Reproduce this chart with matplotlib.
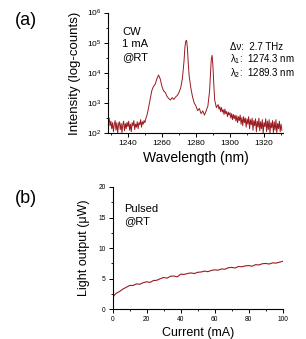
import numpy as np
import matplotlib
matplotlib.use("Agg")
import matplotlib.pyplot as plt
from matplotlib.ticker import MultipleLocator, LogLocator

plt.rcParams['font.family'] = ['Liberation Sans', 'DejaVu Sans']
plt.rcParams['mathtext.fontset'] = 'custom'
plt.rcParams['mathtext.rm'] = 'Liberation Sans'
plt.rcParams['mathtext.it'] = 'Liberation Sans'

# (a) CW spectrum, log10 of counts
wavelength = [1228, 1228.5, 1229, 1229.5, 1230, 1230.5, 1231, 1231.5, 1232, 1232.5,
              1233, 1233.5, 1234, 1234.5, 1235, 1235.5, 1236, 1236.5, 1237, 1237.5,
              1238, 1238.5, 1239, 1239.5, 1240, 1240.5, 1241, 1241.5, 1242, 1242.5,
              1243, 1243.5, 1244, 1244.5, 1245, 1245.5, 1246, 1246.5, 1247, 1247.5,
              1248, 1248.5, 1249, 1249.5, 1250, 1250.5, 1251, 1252, 1253, 1254,
              1255, 1256, 1257, 1258, 1259, 1260, 1261, 1262, 1263, 1264,
              1265, 1266, 1267, 1268, 1269, 1270, 1271, 1272, 1273, 1273.5,
              1274, 1274.5, 1275, 1275.5, 1276, 1277, 1278, 1279, 1280, 1281,
              1282, 1283, 1284, 1285, 1286, 1287, 1288, 1288.5, 1289, 1289.5,
              1290, 1290.5, 1291, 1292,
              1293, 1293.5, 1294, 1294.5, 1295, 1295.5, 1296, 1296.5, 1297, 1297.5,
              1298, 1298.5, 1299, 1299.5, 1300, 1300.5, 1301, 1301.5, 1302, 1302.5,
              1303, 1303.5, 1304, 1304.5, 1305, 1305.5, 1306, 1306.5, 1307, 1307.5,
              1308, 1308.5, 1309, 1309.5, 1310, 1310.5, 1311, 1311.5, 1312, 1312.5,
              1313, 1313.5, 1314, 1314.5, 1315, 1315.5, 1316, 1316.5, 1317, 1317.5,
              1318, 1318.5, 1319, 1319.5, 1320, 1320.5, 1321, 1321.5, 1322, 1322.5,
              1323, 1323.5, 1324, 1324.5, 1325, 1325.5, 1326, 1326.5, 1327, 1327.5,
              1328, 1328.5, 1329, 1329.5, 1330, 1330.5]
log_counts = [2.45, 2.35, 2.50, 2.25, 2.40, 2.15, 2.35, 2.05, 2.30, 2.42,
              2.10, 2.35, 2.00, 2.30, 2.38, 2.12, 2.33, 2.02, 2.28, 2.40,
              2.08, 2.32, 2.15, 2.36, 2.22, 2.40, 2.10, 2.30, 2.05, 2.35,
              2.25, 2.42, 2.12, 2.30, 2.20, 2.38, 2.15, 2.35, 2.28, 2.45,
              2.20, 2.38, 2.30, 2.42, 2.35, 2.48, 2.55, 2.80, 3.10, 3.40,
              3.55, 3.62, 3.80, 3.93, 3.80, 3.55, 3.40, 3.35, 3.22, 3.15,
              3.10, 3.18, 3.12, 3.20, 3.25, 3.35, 3.50, 3.80, 4.40, 4.85,
              5.05, 5.08, 4.80, 4.30, 3.90, 3.50, 3.20, 3.00, 2.90, 2.75,
              2.82, 2.65, 2.74, 2.60, 2.75, 2.90, 3.40, 3.95, 4.45, 4.58,
              4.20, 3.60, 3.10, 2.85,
              2.95, 2.80, 2.88, 2.72, 2.85, 2.70, 2.78, 2.62, 2.80, 2.65,
              2.72, 2.55, 2.70, 2.60, 2.68, 2.50, 2.65, 2.45, 2.62, 2.48,
              2.60, 2.40, 2.58, 2.35, 2.55, 2.42, 2.60, 2.30, 2.52, 2.25,
              2.55, 2.35, 2.50, 2.20, 2.48, 2.30, 2.55, 2.15, 2.45, 2.28,
              2.50, 2.10, 2.42, 2.25, 2.48, 2.05, 2.40, 2.20, 2.50, 2.08,
              2.38, 2.15, 2.45, 2.00, 2.35, 2.22, 2.48, 2.05, 2.40, 2.12,
              2.45, 2.00, 2.35, 2.18, 2.42, 2.02, 2.38, 2.10, 2.45, 2.00,
              2.32, 2.15, 2.40, 2.05, 2.30, 2.10]
assert len(wavelength) == len(log_counts)

# (b) pulsed L-I curve
current = [0, 1, 2, 4, 6, 8, 10, 12, 14, 16, 18, 20, 22, 24, 26, 28, 30,
           32, 34, 36, 38, 40, 42, 44, 46, 48, 50, 52, 54, 56, 58, 60, 62,
           64, 66, 68, 70, 72, 74, 76, 78, 80, 82, 84, 86, 88, 90, 92, 94,
           96, 98, 100]
light = [1.8, 2.3, 2.6, 2.9, 3.3, 3.6, 3.9, 3.9, 4.15, 4.1, 4.35, 4.5, 4.4,
         4.7, 4.75, 5.0, 5.2, 5.1, 5.4, 5.45, 5.3, 5.75, 5.7, 5.85, 5.95,
         5.85, 6.05, 6.1, 6.25, 6.15, 6.35, 6.45, 6.4, 6.6, 6.55, 6.8, 6.85,
         6.75, 7.0, 6.95, 7.1, 7.15, 7.05, 7.3, 7.25, 7.45, 7.5, 7.4, 7.6,
         7.55, 7.7, 7.85]

red = '#9a1a1f'

fig = plt.figure(figsize=(3.06, 3.39), dpi=100)

# ---- panel (a)
ax1 = fig.add_axes([0.354, 0.607, 0.570, 0.356])
ax1.semilogy(wavelength, [10 ** v for v in log_counts], color=red, lw=0.7)
ax1.set_xlim(1228.5, 1331)
ax1.set_ylim(1e2, 1e6)
ax1.xaxis.set_major_locator(MultipleLocator(20))
ax1.xaxis.set_minor_locator(MultipleLocator(10))
ax1.yaxis.set_major_locator(LogLocator(base=10, numticks=10))
ax1.yaxis.set_minor_locator(LogLocator(base=10, subs=[3.16], numticks=10))
ax1.set_xlabel('Wavelength (nm)', fontsize=10, labelpad=3)
ax1.set_ylabel('Intensity (log-counts)', fontsize=9.5, labelpad=4)
ax1.text(0.08, 0.88, 'CW\n1 mA\n@RT', transform=ax1.transAxes, fontsize=8,
         va='top', ha='left', linespacing=1.3)

# annotation block as one text, figure fraction coordinates
fig.text(0.750, 0.877,
         u'\u0394\u03bd:  2.7 THz\n\u03bb$_1$:  1274.3 nm\n\u03bb$_2$:  1289.3 nm',
         fontsize=7, va='top', ha='left', linespacing=1.05)

# ---- panel (b)
ax2 = fig.add_axes([0.368, 0.0876, 0.556, 0.3608])
ax2.plot(current, light, color=red, lw=0.8)
ax2.set_xlim(0, 100)
ax2.set_ylim(0, 20)
ax2.xaxis.set_major_locator(MultipleLocator(20))
ax2.xaxis.set_minor_locator(MultipleLocator(10))
ax2.yaxis.set_major_locator(MultipleLocator(5))
ax2.yaxis.set_minor_locator(MultipleLocator(2.5))
ax2.set_xlabel('Current (mA)', fontsize=9, labelpad=3)
ax2.set_ylabel(u'Light output (\u03bcW)', fontsize=9, labelpad=6)
ax2.text(0.07, 0.86, 'Pulsed\n@RT', transform=ax2.transAxes, fontsize=8,
         va='top', ha='left', linespacing=1.3)

for ax, fs in ((ax1, 6), (ax2, 4.8)):
    for s in ('top', 'right'):
        ax.spines[s].set_visible(False)
    for s in ('left', 'bottom'):
        ax.spines[s].set_linewidth(0.8)
    ax.tick_params(which='major', length=3, width=0.7, labelsize=fs, pad=2)
    ax.tick_params(which='minor', length=1.5, width=0.6)

fig.text(0.05, 0.94, '(a)', fontsize=13, va='center')
fig.text(0.05, 0.415, '(b)', fontsize=13, va='center')

fig.savefig('out.png', dpi=100)
